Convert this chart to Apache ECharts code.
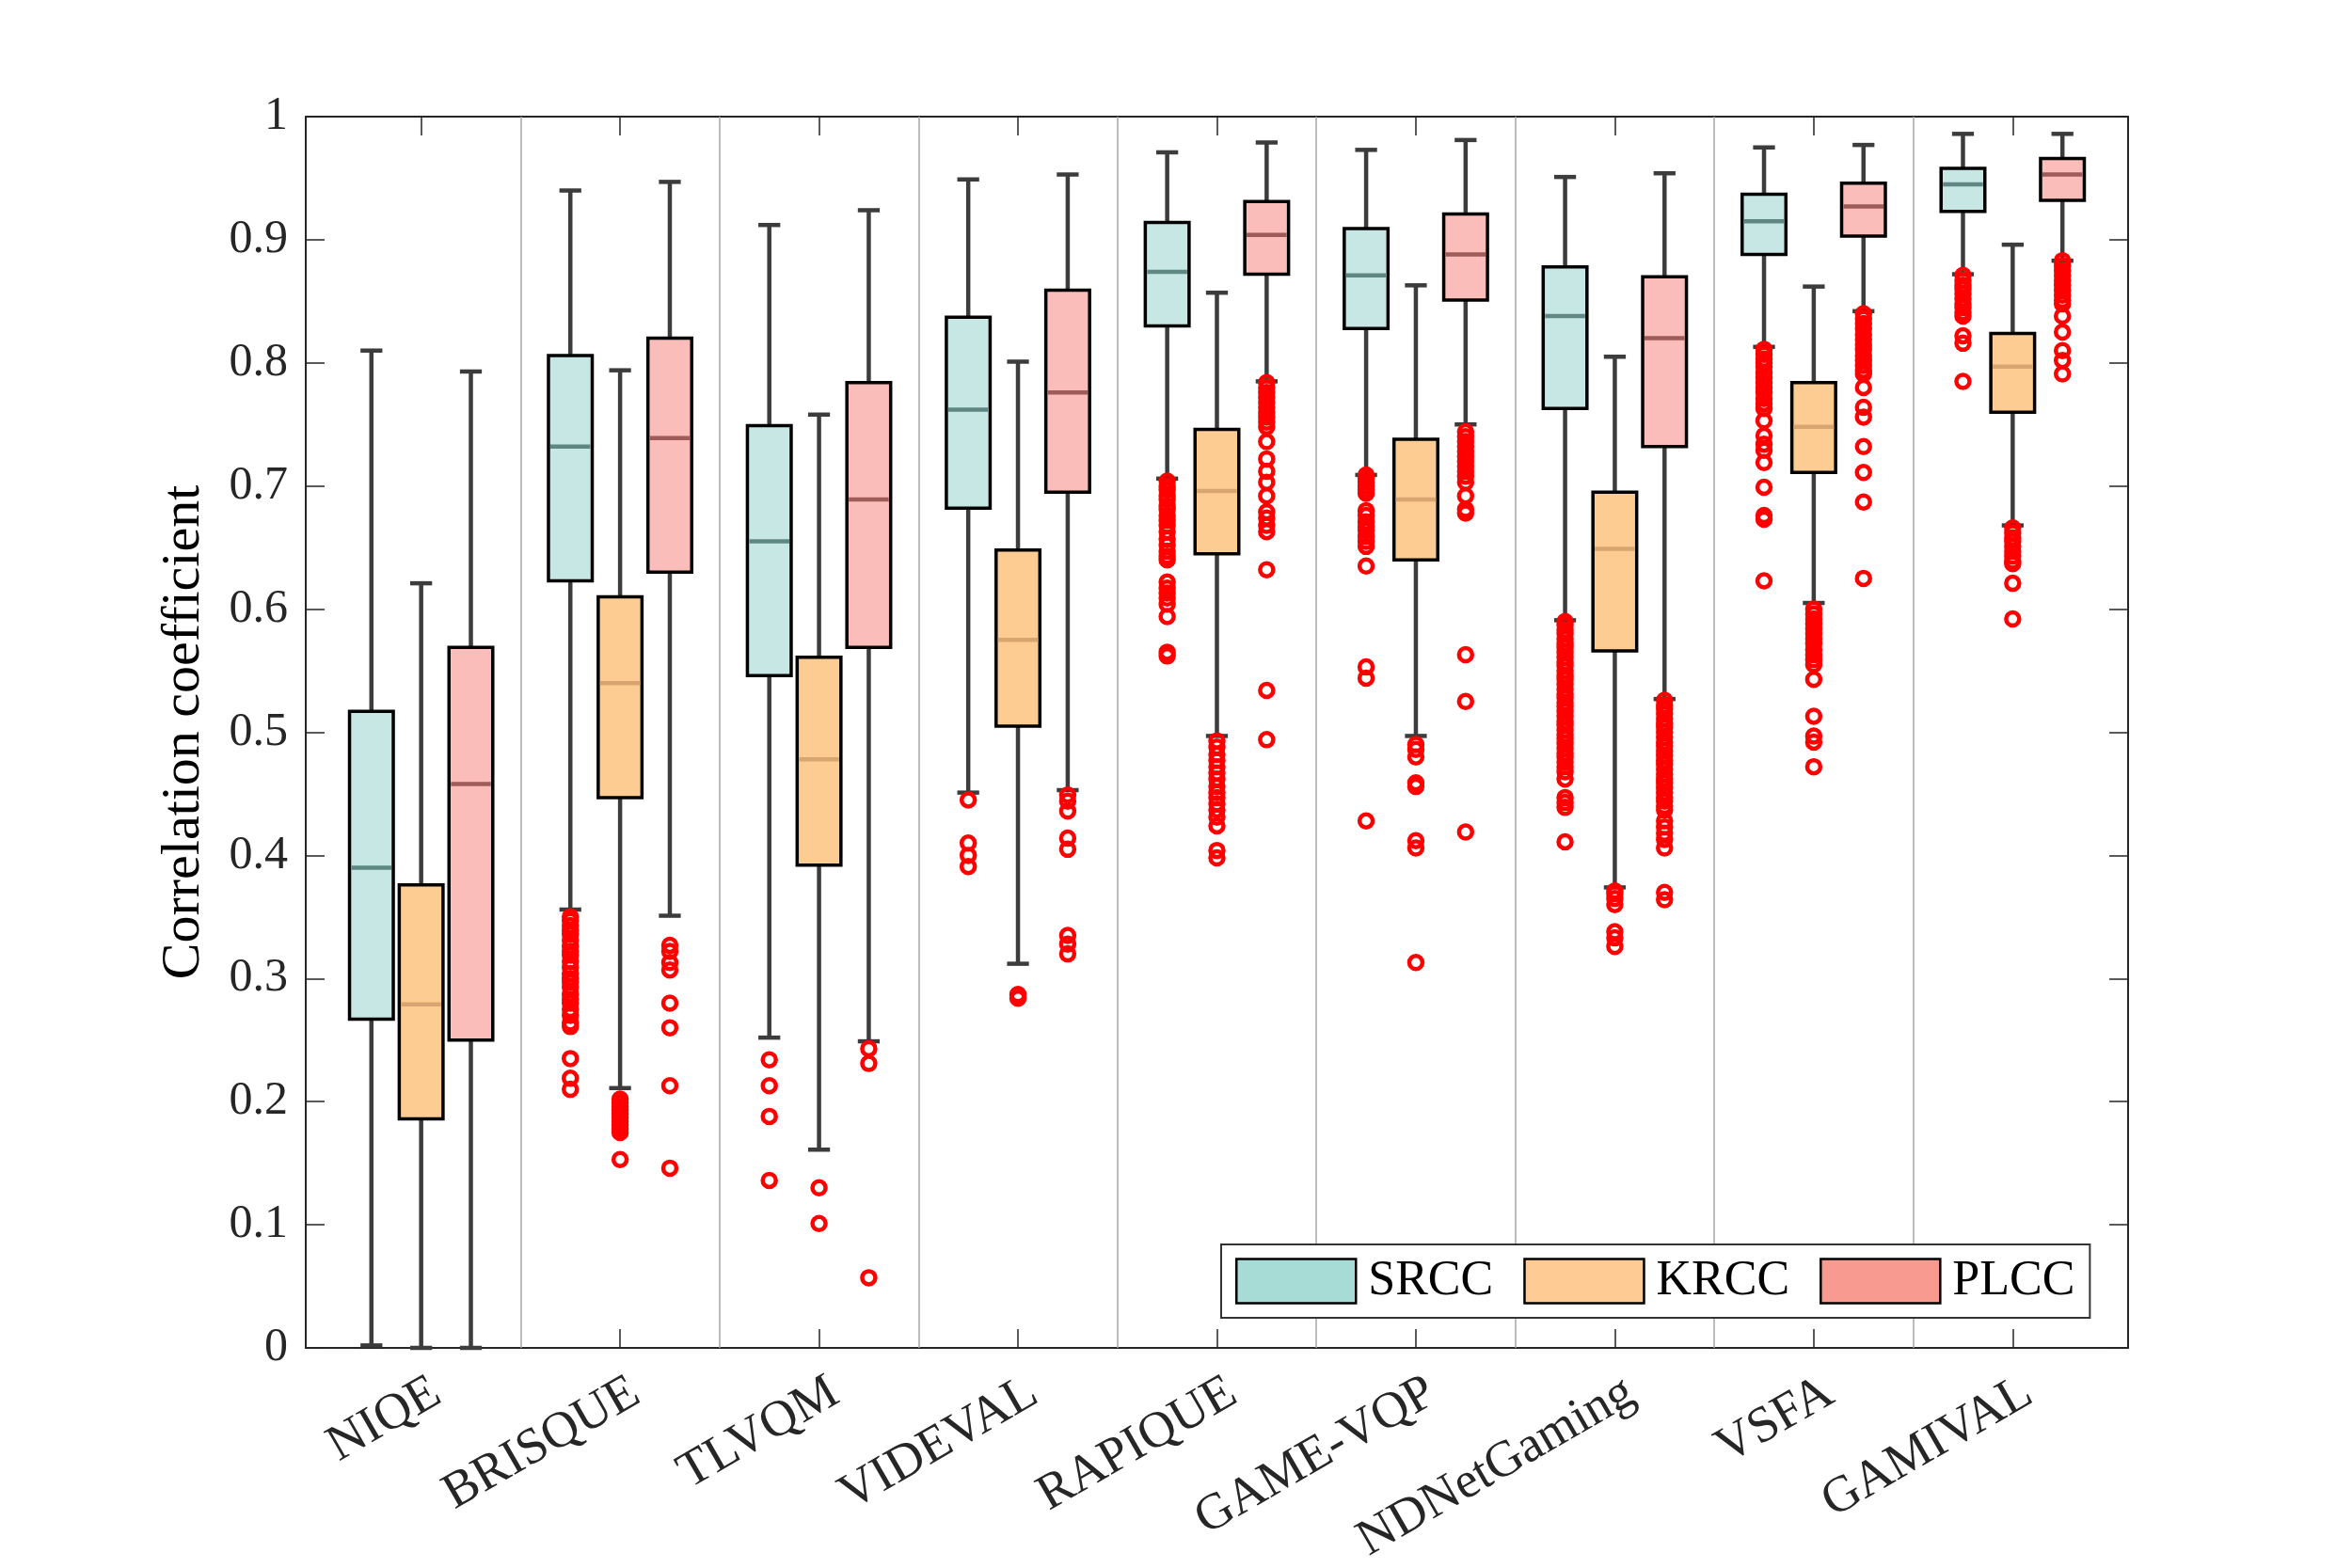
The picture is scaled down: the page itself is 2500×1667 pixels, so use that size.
<!DOCTYPE html>
<html><head><meta charset="utf-8">
<script src="https://cdn.jsdelivr.net/npm/echarts@6/dist/echarts.min.js"></script>
<style>html,body{margin:0;padding:0;background:#fff}#c{width:2500px;height:1667px}</style>
</head><body><div id="c"></div>
<script>
// ---------------- data ----------------
const methods = ['NIQE','BRISQUE','TLVQM','VIDEVAL','RAPIQUE','GAME-VQP','NDNetGaming','VSFA','GAMIVAL'];
const metricNames = ['SRCC','KRCC','PLCC'];
const yTickLabels = ['0','0.1','0.2','0.3','0.4','0.5','0.6','0.7','0.8','0.9','1'];

// [lower whisker, Q1, median, Q3, upper whisker]
const srccBox = [
  [0.002,0.267,0.390,0.517,0.810],
  [0.356,0.623,0.732,0.806,0.940],
  [0.252,0.546,0.655,0.749,0.912],
  [0.451,0.682,0.762,0.837,0.949],
  [0.706,0.830,0.874,0.914,0.971],
  [0.709,0.828,0.871,0.909,0.973],
  [0.591,0.763,0.838,0.878,0.951],
  [0.813,0.888,0.915,0.937,0.975],
  [0.872,0.923,0.945,0.958,0.986]
];
const krccBox = [
  [0.000,0.186,0.279,0.376,0.621],
  [0.211,0.447,0.540,0.610,0.794],
  [0.161,0.392,0.478,0.561,0.758],
  [0.312,0.505,0.575,0.648,0.801],
  [0.497,0.645,0.696,0.746,0.857],
  [0.497,0.640,0.689,0.738,0.863],
  [0.374,0.566,0.649,0.695,0.805],
  [0.605,0.711,0.748,0.784,0.862],
  [0.668,0.760,0.797,0.824,0.896]
];
const plccBox = [
  [0.000,0.250,0.458,0.569,0.793],
  [0.351,0.630,0.739,0.820,0.947],
  [0.249,0.569,0.689,0.784,0.924],
  [0.453,0.695,0.776,0.859,0.953],
  [0.785,0.872,0.904,0.931,0.979],
  [0.750,0.851,0.888,0.921,0.981],
  [0.527,0.732,0.820,0.870,0.954],
  [0.842,0.903,0.927,0.946,0.977],
  [0.883,0.932,0.953,0.966,0.986]
];

const srccOutliers = [
  [],
  [0.350,0.347,0.343,0.339,0.336,0.331,0.326,0.322,0.319,0.314,0.309,0.304,0.300,0.297,0.293,0.287,0.283,0.280,0.275,0.270,0.264,0.261,0.235,0.219,0.210],
  [0.234,0.213,0.188,0.136],
  [0.445,0.410,0.400,0.391],
  [0.704,0.700,0.697,0.692,0.689,0.684,0.681,0.676,0.672,0.668,0.663,0.657,0.652,0.647,0.643,0.640,0.622,0.617,0.613,0.609,0.604,0.594,0.565,0.562],
  [0.709,0.706,0.703,0.700,0.697,0.694,0.680,0.676,0.671,0.667,0.664,0.659,0.655,0.651,0.635,0.553,0.544,0.428],
  [0.590,0.587,0.583,0.580,0.576,0.572,0.569,0.565,0.561,0.557,0.554,0.550,0.546,0.543,0.539,0.535,0.531,0.528,0.524,0.521,0.517,0.513,0.509,0.506,0.502,0.498,0.495,0.491,0.487,0.483,0.480,0.476,0.472,0.468,0.462,0.447,0.443,0.439,0.411],
  [0.811,0.807,0.803,0.800,0.797,0.792,0.788,0.784,0.780,0.776,0.771,0.767,0.763,0.753,0.741,0.734,0.729,0.719,0.699,0.676,0.673,0.623],
  [0.871,0.867,0.863,0.860,0.856,0.852,0.848,0.845,0.841,0.838,0.822,0.816,0.785]
];
const krccOutliers = [
  [],
  [0.202,0.199,0.196,0.193,0.190,0.187,0.184,0.181,0.178,0.175,0.153],
  [0.130,0.101],
  [0.287,0.284],
  [0.493,0.488,0.482,0.477,0.472,0.467,0.462,0.456,0.451,0.447,0.442,0.437,0.431,0.424,0.404,0.398],
  [0.490,0.486,0.480,0.459,0.456,0.412,0.406,0.313],
  [0.371,0.369,0.365,0.360,0.338,0.333,0.326],
  [0.600,0.596,0.592,0.588,0.584,0.580,0.576,0.572,0.567,0.563,0.559,0.555,0.543,0.513,0.497,0.492,0.472],
  [0.666,0.662,0.658,0.655,0.651,0.647,0.643,0.639,0.637,0.621,0.592]
];
const plccOutliers = [
  [],
  [0.327,0.322,0.313,0.307,0.280,0.260,0.213,0.146],
  [0.243,0.231,0.057],
  [0.449,0.444,0.436,0.414,0.405,0.335,0.328,0.320],
  [0.784,0.780,0.776,0.772,0.768,0.764,0.760,0.756,0.752,0.748,0.736,0.722,0.712,0.703,0.692,0.679,0.674,0.668,0.663,0.632,0.534,0.494],
  [0.744,0.740,0.736,0.732,0.728,0.724,0.720,0.716,0.712,0.708,0.703,0.692,0.681,0.678,0.563,0.525,0.419],
  [0.526,0.522,0.519,0.515,0.511,0.507,0.504,0.500,0.496,0.492,0.489,0.485,0.481,0.477,0.474,0.470,0.466,0.462,0.459,0.455,0.451,0.447,0.444,0.440,0.437,0.428,0.423,0.418,0.413,0.406,0.370,0.364],
  [0.840,0.836,0.832,0.828,0.823,0.819,0.815,0.811,0.806,0.802,0.798,0.794,0.791,0.780,0.764,0.756,0.732,0.711,0.687,0.625],
  [0.883,0.879,0.875,0.871,0.867,0.863,0.859,0.855,0.851,0.848,0.838,0.825,0.810,0.802,0.791]
];

// ---------------- styles ----------------
const FONT = '"Liberation Serif", "DejaVu Serif", serif';
const boxFill = {SRCC:'#c7e7e4', KRCC:'#fdcc93', PLCC:'#fbbdb9'};
const legendFill = {SRCC:'#a7dbd5', KRCC:'#fdcb93', PLCC:'#f99a91'};
const medColor = {SRCC:'#5f8884', KRCC:'#d8a46f', PLCC:'#9e5b58'};
const offsets = {SRCC:-0.25, KRCC:0, PLCC:0.25};
const BOX_W = 0.22, CAP_W = 0.11;
const tickPos = methods.map((m,i)=>i+1);

function boxSeries(name, boxes, withSeparators){
  const off = offsets[name];
  const s = {
    type:'custom', name, coordinateSystem:'cartesian2d', z:2, silent:true,
    data: boxes.map((b,i)=>[i+1].concat(b)),
    encode:{x:0, y:[1,2,3,4,5]},
    renderItem(params, api){
      const x = api.value(0) + off;
      const p = k => api.coord([x, api.value(k)]);
      const pLo=p(1), pQ1=p(2), pMd=p(3), pQ3=p(4), pHi=p(5);
      const hw = api.size([BOX_W,0])[0]/2, cw = api.size([CAP_W,0])[0]/2;
      const cx = pLo[0];
      const ws = {stroke:'#3c3c3c', lineWidth:4.5};
      return {type:'group', children:[
        {type:'line', shape:{x1:cx,y1:pQ3[1],x2:cx,y2:pHi[1]}, style:ws},
        {type:'line', shape:{x1:cx,y1:pQ1[1],x2:cx,y2:pLo[1]}, style:ws},
        {type:'line', shape:{x1:cx-cw,y1:pHi[1],x2:cx+cw,y2:pHi[1]}, style:ws},
        {type:'line', shape:{x1:cx-cw,y1:pLo[1],x2:cx+cw,y2:pLo[1]}, style:ws},
        {type:'rect', shape:{x:cx-hw,y:pQ3[1],width:2*hw,height:pQ1[1]-pQ3[1]}, style:{fill:boxFill[name], stroke:'#000', lineWidth:3.5}},
        {type:'line', shape:{x1:cx-hw+2,y1:pMd[1],x2:cx+hw-2,y2:pMd[1]}, style:{stroke:medColor[name], lineWidth:4.5}}
      ]};
    }
  };
  if (withSeparators){
    s.markLine = {
      silent:true, symbol:['none','none'], label:{show:false},
      lineStyle:{color:'#a6a6a6', width:1.5, type:'solid'},
      data: methods.slice(1).map((m,i)=>({xAxis:i+1.5}))
    };
  }
  return s;
}
function outlierSeries(name, outs){
  const off = offsets[name];
  const data = [];
  outs.forEach((arr,i)=>arr.forEach(v=>data.push([i+1+off, v])));
  return {
    type:'scatter', name:name+' outliers', data, symbol:'circle', symbolSize:14, z:3, silent:true,
    itemStyle:{color:'rgba(255,255,255,0)', borderColor:'#ff0000', borderWidth:4.5, opacity:1}
  };
}

const axisLineStyle = {color:'#262626', width:2};
const tickStyle = {color:'#262626', width:1.5};

const option = {
  backgroundColor:'#fff',
  animation:false,
  grid:{left:325, right:238, top:124, bottom:234, containLabel:false},
  xAxis:[
    {type:'value', position:'bottom', min:0.42, max:9.58,
     axisLine:{show:true, onZero:false, lineStyle:axisLineStyle},
     axisTick:{show:true, inside:true, length:20, customValues:tickPos, lineStyle:tickStyle},
     axisLabel:{show:true, customValues:tickPos.map(v=>v+0.08), formatter:v=>methods[Math.round(v-0.08)-1],
                rotate:30, margin:44, fontSize:54, fontFamily:FONT, color:'#262626'},
     splitLine:{show:false}},
    {type:'value', position:'top', min:0.42, max:9.58,
     axisLine:{show:true, onZero:false, lineStyle:axisLineStyle},
     axisTick:{show:true, inside:true, length:20, customValues:tickPos, lineStyle:tickStyle},
     axisLabel:{show:false}, splitLine:{show:false}}
  ],
  yAxis:[
    {type:'value', position:'left', min:0, max:1, interval:0.1,
     axisLine:{show:true, onZero:false, lineStyle:axisLineStyle},
     axisTick:{show:true, inside:true, length:20, lineStyle:tickStyle},
     axisLabel:{show:true, margin:19, fontSize:50, fontFamily:FONT, color:'#262626',
                formatter:(v)=>yTickLabels[Math.round(v*10)]},
     splitLine:{show:false},
     name:'Correlation coefficient', nameLocation:'middle', nameGap:100,
     nameTextStyle:{fontSize:58, fontFamily:FONT, color:'#000'}},
    {type:'value', position:'right', min:0, max:1, interval:0.1,
     axisLine:{show:true, onZero:false, lineStyle:axisLineStyle},
     axisTick:{show:true, inside:true, length:20, lineStyle:tickStyle},
     axisLabel:{show:false}, splitLine:{show:false}}
  ],
  legend:{
    show:true, left:1298, top:1323, orient:'horizontal', icon:'rect',
    itemWidth:127, itemHeight:47, itemGap:32, padding:[13,16,13,15],
    borderColor:'#333', borderWidth:2, backgroundColor:'#fff', selectedMode:false, z:10,
    textStyle:{fontSize:52, fontFamily:FONT, color:'#000', padding:[0,0,0,8]},
    data: metricNames.map(n=>({name:n, itemStyle:{color:legendFill[n], borderColor:'#000', borderWidth:2.5}}))
  },
  series:[
    boxSeries('SRCC', srccBox, true),
    boxSeries('KRCC', krccBox, false),
    boxSeries('PLCC', plccBox, false),
    outlierSeries('SRCC', srccOutliers),
    outlierSeries('KRCC', krccOutliers),
    outlierSeries('PLCC', plccOutliers)
  ]
};
const chart = echarts.init(document.getElementById('c'), null, {renderer:'canvas'});
chart.setOption(option);
</script>
</body></html>
